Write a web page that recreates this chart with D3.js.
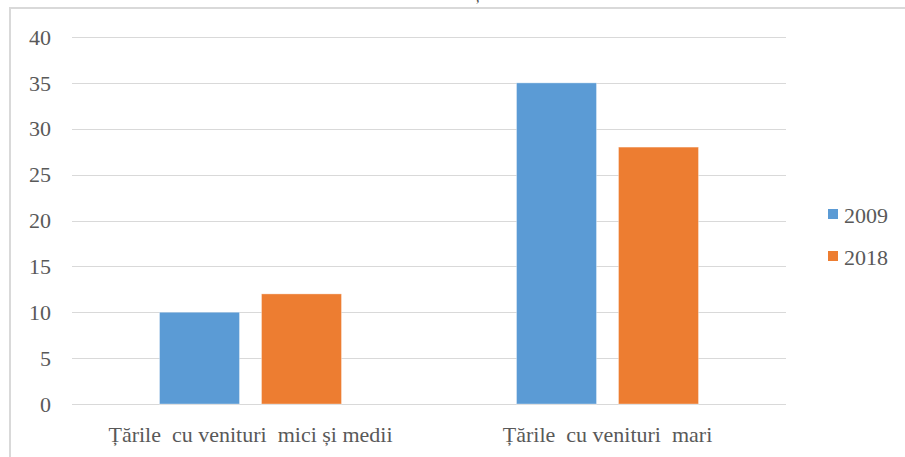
<!DOCTYPE html>
<html>
<head>
<meta charset="utf-8">
<script src="https://cdn.jsdelivr.net/npm/d3@7"></script>
<style>
  body { margin: 0; background: #fff; }
  text { font-family: "Liberation Serif", "Times New Roman", serif; fill: #595959; }
</style>
</head>
<body>
<div id="chart"></div>
<script>
// data
const categories = ["Țările  cu venituri  mici și medii", "Țările  cu venituri  mari"];
const seriesNames = ["2009", "2018"];
const values2009 = [10, 35];
const values2018 = [12, 28];
const yTicks = [0, 5, 10, 15, 20, 25, 30, 35, 40];
const colors = ["#5b9bd5", "#ed7d31"];

const width = 905, height = 457;
const margin = { top: 37, left: 72, right: 119, bottom: 53 };

const svg = d3.select("#chart").append("svg")
  .attr("width", width)
  .attr("height", height);

// outer frame of the chart area
svg.append("rect")
  .attr("x", 10).attr("y", 8)
  .attr("width", width + 20).attr("height", height + 20)
  .attr("fill", "none")
  .attr("stroke", "#d9d9d9")
  .attr("stroke-width", 2);

// bit of a title that is cut off at the top
svg.append("text")
  .attr("x", 476).attr("y", 2)
  .attr("font-size", 14)
  .style("fill", "#404040")
  .text(",");

const y = d3.scaleLinear()
  .domain([0, 40])
  .range([height - margin.bottom, margin.top]);

const x0 = d3.scaleBand()
  .domain(categories)
  .range([margin.left, width - margin.right]);

const x1 = d3.scaleBand()
  .domain(seriesNames)
  .range([0, x0.bandwidth()])
  .paddingInner(0.2157)
  .paddingOuter(0.858);

// gridlines
svg.selectAll("line.grid")
  .data(yTicks)
  .join("line")
  .attr("class", "grid")
  .attr("x1", margin.left)
  .attr("x2", width - margin.right)
  .attr("y1", d => Math.round(y(d)) + 0.5)
  .attr("y2", d => Math.round(y(d)) + 0.5)
  .attr("stroke", "#d9d9d9")
  .attr("stroke-width", 1);

// y tick labels
svg.selectAll("text.ytick")
  .data(yTicks)
  .join("text")
  .attr("class", "ytick")
  .attr("x", 51)
  .attr("y", d => y(d))
  .attr("dy", "0.35em")
  .attr("text-anchor", "end")
  .attr("font-size", 22)
  .text(d => d);

// bars
const rows = categories.map((c, i) => ({
  cat: c,
  vals: [
    { s: seriesNames[0], v: values2009[i] },
    { s: seriesNames[1], v: values2018[i] }
  ]
}));

const groups = svg.selectAll("g.cat")
  .data(rows)
  .join("g")
  .attr("class", "cat")
  .attr("transform", d => `translate(${x0(d.cat)},0)`);

groups.selectAll("rect")
  .data(d => d.vals)
  .join("rect")
  .attr("x", d => x1(d.s))
  .attr("width", x1.bandwidth())
  .attr("y", d => y(d.v))
  .attr("height", d => y(0) - y(d.v))
  .attr("fill", (d, i) => colors[i])
  .attr("stroke", "rgba(255,255,255,0.35)")
  .attr("stroke-width", 1);

// category labels
svg.selectAll("text.xlab")
  .data(categories)
  .join("text")
  .attr("class", "xlab")
  .attr("x", d => x0(d) + x0.bandwidth() / 2)
  .attr("y", 442)
  .attr("text-anchor", "middle")
  .attr("font-size", 22)
  .style("white-space", "pre")
  .attr("xml:space", "preserve")
  .text(d => d);

// legend
const legend = svg.selectAll("g.legend")
  .data(seriesNames)
  .join("g")
  .attr("class", "legend")
  .attr("transform", (d, i) => `translate(828,${209 + i * 42})`);

legend.append("rect")
  .attr("width", 10).attr("height", 10)
  .attr("fill", (d, i) => colors[i]);

legend.append("text")
  .attr("x", 16)
  .attr("y", 14)
  .attr("font-size", 22)
  .text(d => d);
</script>
</body>
</html>
